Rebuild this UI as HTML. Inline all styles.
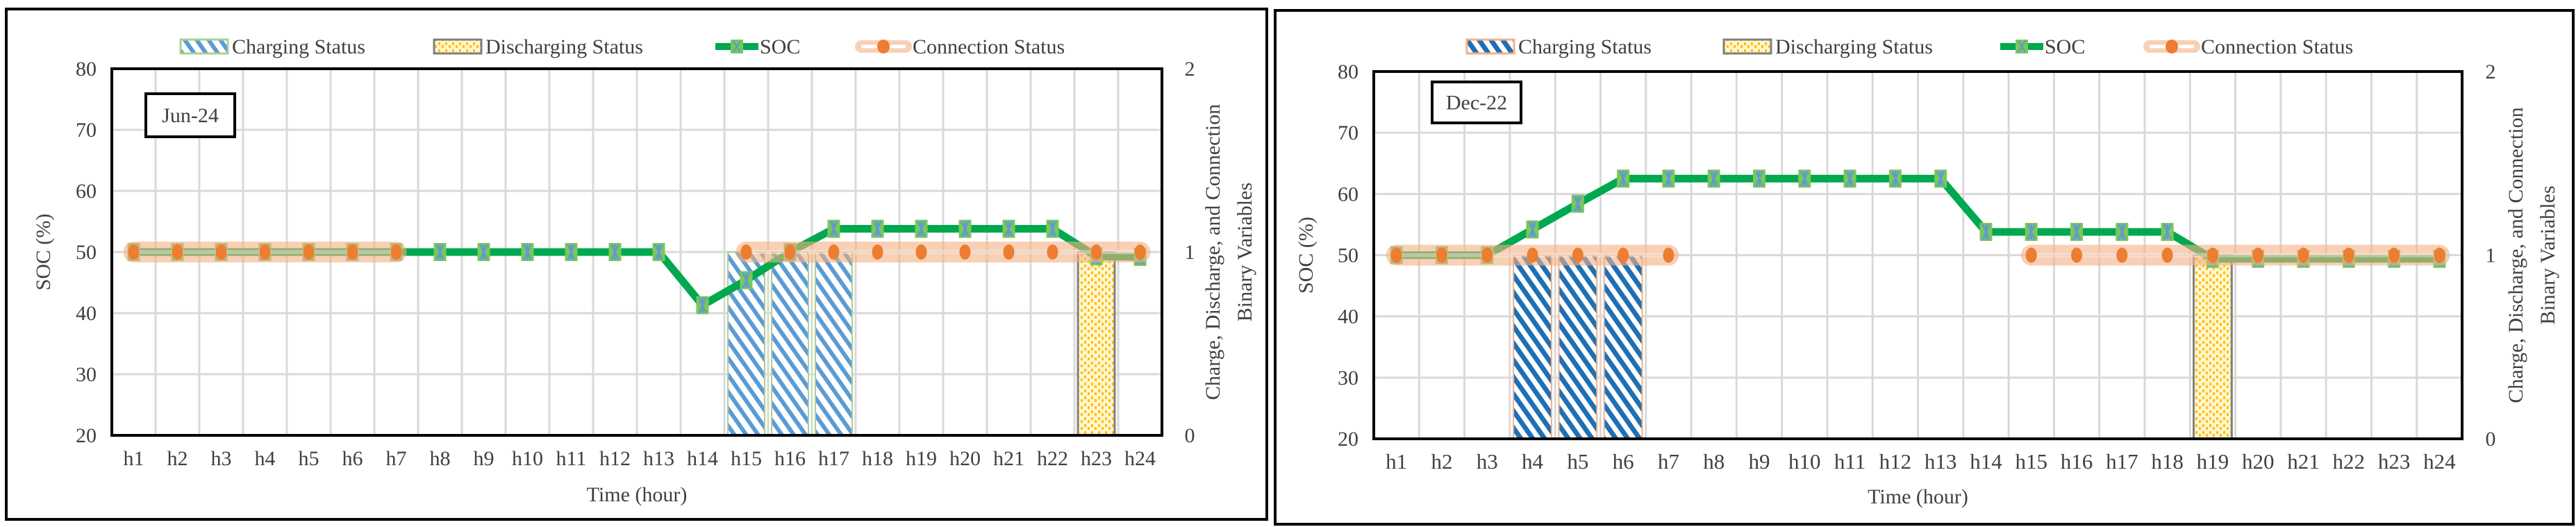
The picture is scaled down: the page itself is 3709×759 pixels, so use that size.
<!DOCTYPE html>
<html><head><meta charset="utf-8">
<style>
html,body{margin:0;padding:0;background:#fff;}
svg{display:block;font-family:"Liberation Serif",serif;}
</style></head>
<body>
<svg id="chart" width="3709" height="759" viewBox="0 0 3709 759" xmlns="http://www.w3.org/2000/svg">
<defs>
<pattern id="stripeJun" patternUnits="userSpaceOnUse" width="14" height="14" patternTransform="rotate(-35)">
<rect width="14" height="14" fill="#fff"/><rect width="6" height="14" fill="#5B9BD5"/></pattern>
<pattern id="stripeDec" patternUnits="userSpaceOnUse" width="14" height="14" patternTransform="rotate(-35)">
<rect width="14" height="14" fill="#fff"/><rect width="7" height="14" fill="#1F6FB5"/></pattern>
<pattern id="dots" patternUnits="userSpaceOnUse" width="10" height="10">
<rect width="10" height="10" fill="#FFF5D0"/><rect x="1" y="1" width="3" height="4" fill="#FFC000"/><rect x="6" y="5" width="3" height="4" fill="#FFC000"/></pattern>
</defs>
</svg>
<script>
const hours = ["h1","h2","h3","h4","h5","h6","h7","h8","h9","h10","h11","h12","h13","h14","h15","h16","h17","h18","h19","h20","h21","h22","h23","h24"];
const socTicks = [20,30,40,50,60,70,80];
const binTicks = [0,1,2];
const junSOC = [50,50,50,50,50,50,50,50,50,50,50,50,50,41.3,45.4,50,53.8,53.8,53.8,53.8,53.8,53.8,49.3,49.2];
const junConn = [1,1,1,1,1,1,1,null,null,null,null,null,null,null,1,1,1,1,1,1,1,1,1,1];
const junCharge = [0,0,0,0,0,0,0,0,0,0,0,0,0,0,1,1,1,0,0,0,0,0,0,0];
const junDischarge = [0,0,0,0,0,0,0,0,0,0,0,0,0,0,0,0,0,0,0,0,0,0,1,0];
const decSOC = [50,50,50,54.2,58.4,62.5,62.5,62.5,62.5,62.5,62.5,62.5,62.5,53.8,53.8,53.8,53.8,53.8,49.4,49.4,49.4,49.4,49.4,49.4];
const decConn = [1,1,1,1,1,1,1,null,null,null,null,null,null,null,1,1,1,1,1,1,1,1,1,1];
const decCharge = [0,0,0,1,1,1,0,0,0,0,0,0,0,0,0,0,0,0,0,0,0,0,0,0];
const decDischarge = [0,0,0,0,0,0,0,0,0,0,0,0,0,0,0,0,0,0,1,0,0,0,0,0];

const svg = document.getElementById('chart');
const NS = 'http://www.w3.org/2000/svg';
function mk(tag, attrs, parent){const e=document.createElementNS(NS,tag);for(const k in attrs)e.setAttribute(k,attrs[k]);(parent||svg).appendChild(e);return e;}

function panel(cfg){
  const g = mk('g',{});
  
  
  const {L,R,T,B} = cfg;
  mk('rect',{x:cfg.bx,y:cfg.by,width:cfg.bw,height:cfg.bh,fill:'#fff',stroke:'#000','stroke-width':4},g);
  const band = (R-L)/hours.length;
  const xc = i => L + band*(i+0.5);
  const ys = v => B - (v-20)/60*(B-T);
  const yb = v => B - v/2*(B-T);
  // gridlines
  for(let i=1;i<hours.length;i++){
    const l=mk('line',{x1:L+band*i,x2:L+band*i,y1:T,y2:B,stroke:'#D9D9D9','stroke-width':3},g);
    
    
  }
  socTicks.forEach(v=>{
    if(v>20&&v<80){const l=mk('line',{x1:L,x2:R,y1:ys(v),y2:ys(v),stroke:'#D9D9D9','stroke-width':3},g);
    
    }
    const t=mk('text',{x:L-22,y:ys(v)+10,'text-anchor':'end','font-size':30,fill:'#404040'},g);
    t.textContent=v;
    
    
  });
  binTicks.forEach(v=>{
    const t=mk('text',{x:cfg.rtx,y:yb(v)+10,'text-anchor':'middle','font-size':30,fill:'#404040'},g);
    t.textContent=v;
    
    
  });
  hours.forEach((h,i)=>{
    const t=mk('text',{x:xc(i),y:B+43,'text-anchor':'middle','font-size':cfg.fs,fill:'#404040'},g);
    t.textContent=h;
    
    
  });
  // bars
  const bw = band*0.84;
  cfg.charge.forEach((v,i)=>{ if(v>0){
    const r=mk('rect',{x:xc(i)-bw/2,y:yb(v),width:bw,height:B-yb(v),fill:cfg.stripe,stroke:cfg.cborder,'stroke-width':2},g);
    
    
  }});
  cfg.dis.forEach((v,i)=>{ if(v>0){
    const r=mk('rect',{x:xc(i)-bw/2,y:yb(v),width:bw,height:B-yb(v),fill:'url(#dots)',stroke:'#808080','stroke-width':3},g);
    
    
  }});
  // SOC line
  const soc=mk('polyline',{points:cfg.soc.map((v,i)=>xc(i)+','+ys(v)).join(' '),fill:'none',stroke:'#00A84F','stroke-width':11,'stroke-linejoin':'miter'},g);
  
  
  cfg.soc.forEach((v,i)=>{
    const mg=mk('g',{},g);
    
    
    const x=xc(i),y=ys(v);
    mk('rect',{x:x-9,y:y-13,width:18,height:26,fill:'#7DC65A'},mg);
    mk('path',{d:`M${x-5} ${y-11}L${x+5} ${y+11}M${x+5} ${y-11}L${x-5} ${y+11}M${x} ${y-11}V${y+11}`,stroke:'#5B9BD5','stroke-width':2.5},mg);
  });
  // connection halo segments
  let seg=[];
  const segs=[];
  cfg.conn.forEach((v,i)=>{ if(v!==null){seg.push([xc(i),yb(v)]);} else {if(seg.length)segs.push(seg);seg=[];} });
  if(seg.length)segs.push(seg);
  segs.forEach(s=>{
    const p=mk('polyline',{points:s.map(q=>q.join(',')).join(' '),fill:'none',stroke:'#F4B183','stroke-opacity':0.6,'stroke-width':30,'stroke-linecap':'round'},g);
    
    
    mk('polyline',{points:s.map(q=>q.join(',')).join(' '),fill:'none',stroke:'#fff','stroke-opacity':0.35,'stroke-width':6},g);
  });
  cfg.conn.forEach((v,i)=>{ if(v!==null){
    const c=mk('ellipse',{cx:xc(i),cy:yb(v),rx:8,ry:11,fill:'#ED7D31'},g);
    
    
  }});
  // plot border
  mk('rect',{x:L,y:T,width:R-L,height:B-T,fill:'none',stroke:'#000','stroke-width':4},g);
  // date label
  mk('rect',{x:cfg.lx,y:cfg.ly,width:cfg.lw,height:cfg.lh,fill:'#fff',stroke:'#000','stroke-width':4},g);
  const dl=mk('text',{x:cfg.lx+cfg.lw/2,y:cfg.ly+cfg.lh/2+10,'text-anchor':'middle','font-size':30,fill:'#404040'},g);
  dl.textContent=cfg.label;
  
  
  // axis titles
  const xt=mk('text',{x:(L+R)/2,y:cfg.bby,'text-anchor':'middle','font-size':30,fill:'#404040'},g);
  xt.textContent='Time (hour)';
  
  
  const yt=mk('text',{x:0,y:0,'text-anchor':'middle','font-size':30,fill:'#404040',transform:`translate(${cfg.ytx},${(T+B)/2}) rotate(-90)`},g);
  yt.textContent='SOC (%)';
  
  
  const y2=mk('text',{x:0,y:0,'text-anchor':'middle','font-size':30,fill:'#404040',transform:`translate(${cfg.y2x},${(T+B)/2}) rotate(-90)`},g);
  y2.textContent='Charge, Discharge, and Connection';
  
  
  const y3=mk('text',{x:0,y:0,'text-anchor':'middle','font-size':30,fill:'#404040',transform:`translate(${cfg.y2x+46},${(T+B)/2}) rotate(-90)`},g);
  y3.textContent='Binary Variables';
  
  
  // legend
  const lg=mk('g',{},g);
  
  
  const ly=cfg.legY;
  const e1=mk('g',{},lg);
  
  
  mk('rect',{x:cfg.lg[0],y:ly-10,width:68,height:20,fill:cfg.stripe,stroke:cfg.cborder,'stroke-width':3},e1);
  const t1=mk('text',{x:cfg.lg[0]+74,y:ly+10,'font-size':30,fill:'#404040'},e1);t1.textContent='Charging Status';
  const e2=mk('g',{},lg);
  
  
  mk('rect',{x:cfg.lg[1],y:ly-10,width:68,height:20,fill:'url(#dots)',stroke:'#808080','stroke-width':3},e2);
  const t2=mk('text',{x:cfg.lg[1]+74,y:ly+10,'font-size':30,fill:'#404040'},e2);t2.textContent='Discharging Status';
  const e3=mk('g',{},lg);
  
  
  mk('line',{x1:cfg.lg[2],x2:cfg.lg[2]+62,y1:ly,y2:ly,stroke:'#00A84F','stroke-width':10},e3);
  mk('rect',{x:cfg.lg[2]+22,y:ly-10,width:18,height:20,fill:'#7DC65A'},e3);
  mk('path',{d:`M${cfg.lg[2]+26} ${ly-8}L${cfg.lg[2]+36} ${ly+8}M${cfg.lg[2]+36} ${ly-8}L${cfg.lg[2]+26} ${ly+8}`,stroke:'#5B9BD5','stroke-width':2.5},e3);
  const t3=mk('text',{x:cfg.lg[2]+64,y:ly+10,'font-size':30,fill:'#404040'},e3);t3.textContent='SOC';
  const e4=mk('g',{},lg);
  
  
  mk('line',{x1:cfg.lg[3]+8,x2:cfg.lg[3]+72,y1:ly,y2:ly,stroke:'#F4B183','stroke-opacity':0.6,'stroke-width':18,'stroke-linecap':'round'},e4);
  mk('line',{x1:cfg.lg[3]+8,x2:cfg.lg[3]+72,y1:ly,y2:ly,stroke:'#fff','stroke-width':5},e4);
  mk('ellipse',{cx:cfg.lg[3]+40,cy:ly,rx:9,ry:10,fill:'#ED7D31'},e4);
  const t4=mk('text',{x:cfg.lg[3]+82,y:ly+10,'font-size':30,fill:'#404040'},e4);t4.textContent='Connection Status';
}

panel({id:'jun',bx:9,by:13,bw:1815,bh:735,L:161,R:1673,T:99,B:627,rtx:1713,ytx:72,y2x:1756,bby:722,fs:30,
  soc:junSOC,conn:junConn,charge:junCharge,dis:junDischarge,stripe:'url(#stripeJun)',cborder:'#A9D18E',
  label:'Jun-24',lx:210,ly:135,lw:128,lh:62,legY:67,lg:[260,625,1030,1232]});
panel({id:'dec',bx:1836,by:15,bw:1869,bh:740,L:1978,R:3545,T:103,B:632,rtx:3586,ytx:1890,y2x:3632,bby:725,fs:31,
  soc:decSOC,conn:decConn,charge:decCharge,dis:decDischarge,stripe:'url(#stripeDec)',cborder:'#F4B183',
  label:'Dec-22',lx:2062,ly:118,lw:128,lh:59,legY:67,lg:[2112,2482,2880,3087]});
</script>
</body></html>
